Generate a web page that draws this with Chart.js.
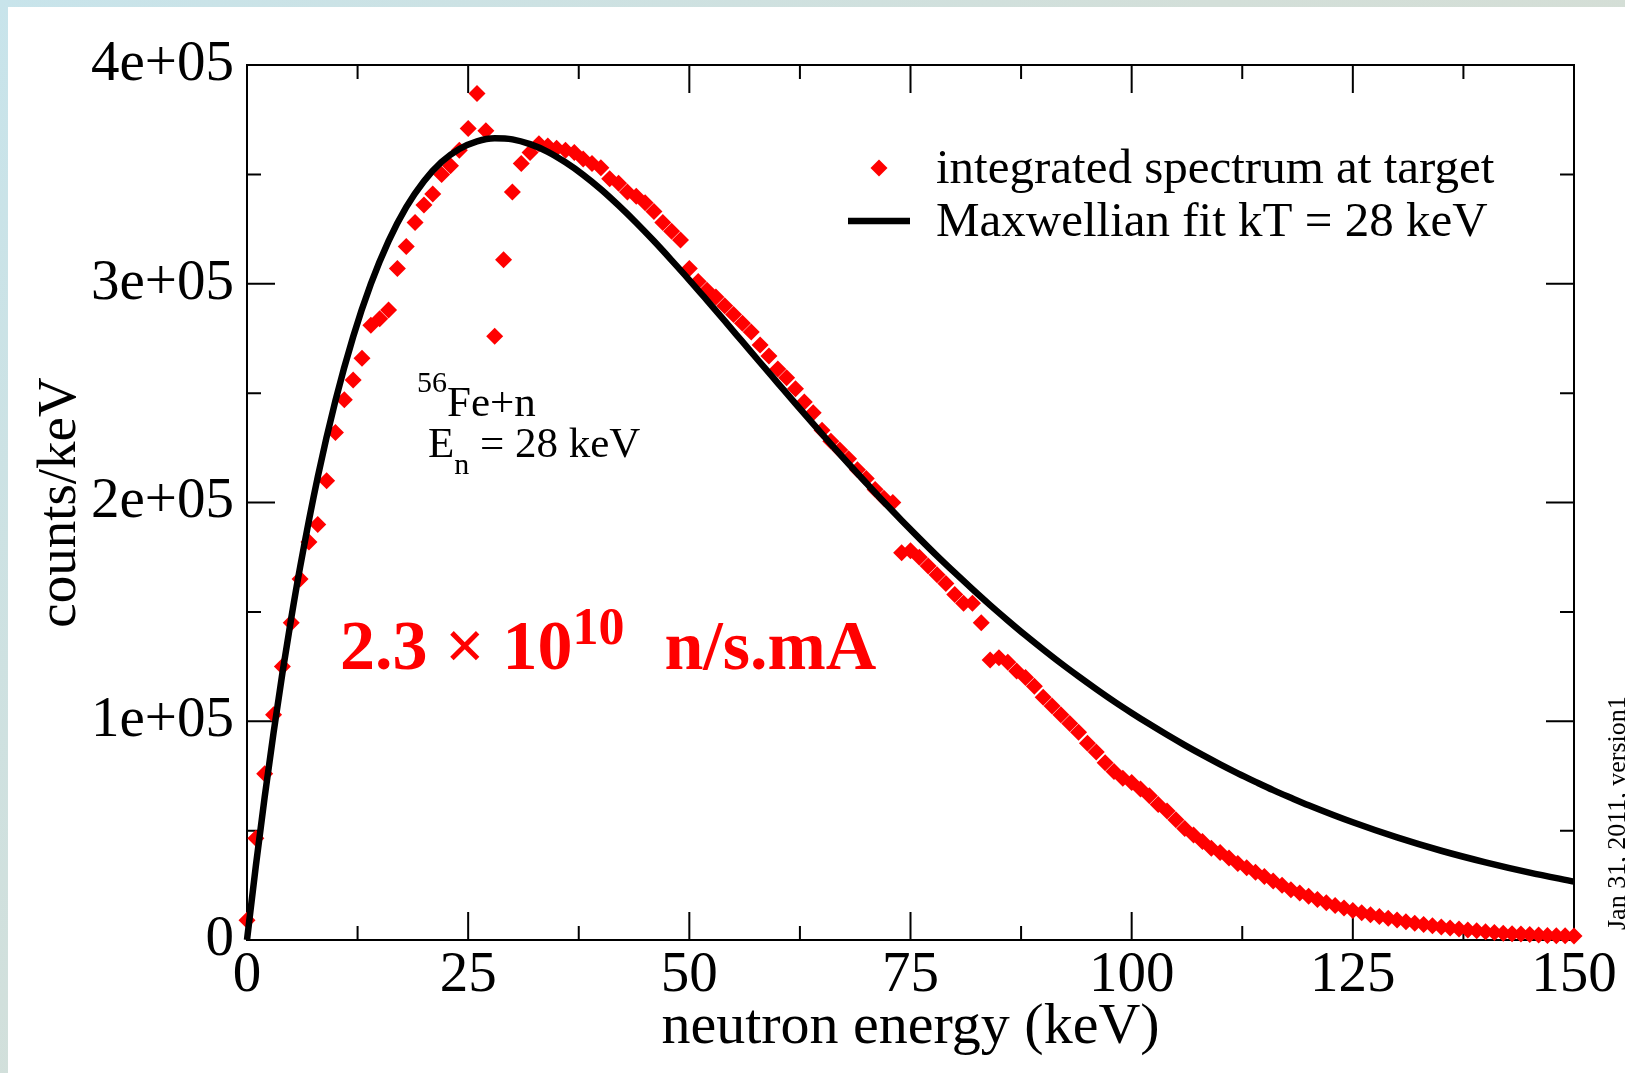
<!DOCTYPE html>
<html>
<head>
<meta charset="utf-8">
<title>Neutron spectrum</title>
<script src="https://cdn.jsdelivr.net/npm/chart.js@4.4.1/dist/chart.umd.min.js"></script>
<style>
  html, body { margin: 0; padding: 0; width: 1625px; height: 1073px; overflow: hidden; }
  body {
    position: relative;
    background: linear-gradient(135deg, #c8e4eb 0%, #d3dfd9 45%, #d7dccf 100%);
    font-family: "Liberation Serif", "Times New Roman", serif;
  }
  #panel { position: absolute; left: 8px; top: 7px; width: 1617px; height: 1066px; background: #fff; }
  #panel canvas { display: block; }
  .note { position: absolute; white-space: nowrap; line-height: 1; color: #000; }
  .sup { position: relative; font-size: 30px; top: -24px; }
  .sub { position: relative; font-size: 30px; top: 17px; }
  .rate { font-weight: bold; color: #ff0000; }
  .rate .sup { font-size: 52px; top: -25px; }
</style>
</head>
<body>
<div id="panel"><canvas id="chart"></canvas></div>

<div class="note" style="left:417px; top:380px; font-size:43px;"><span class="sup">56</span>Fe+n</div>
<div class="note" style="left:428px; top:421px; font-size:43px;">E<span class="sub">n</span> = 28 keV</div>
<div class="note rate" style="left:340px; top:611px; font-size:70px;">2.3 × 10<span class="sup">10</span>&nbsp; <span style="margin-left:5px">n/s.mA</span></div>
<div class="note" style="left:1604px; top:930px; font-size:26px; transform-origin:0 0; transform:rotate(-90deg);">Jan 31, 2011, version1</div>

<script>
// measured spectrum, one point per keV
const spectrumEnergy = [
  0, 1, 2, 3, 4, 5, 6, 7, 8, 9,
  10, 11, 12, 13, 14, 15, 16, 17, 18, 19,
  20, 21, 22, 23, 24, 25, 26, 27, 28, 29,
  30, 31, 32, 33, 34, 35, 36, 37, 38, 39,
  40, 41, 42, 43, 44, 45, 46, 47, 48, 49,
  50, 51, 52, 53, 54, 55, 56, 57, 58, 59,
  60, 61, 62, 63, 64, 65, 66, 67, 68, 69,
  70, 71, 72, 73, 74, 75, 76, 77, 78, 79,
  80, 81, 82, 83, 84, 85, 86, 87, 88, 89,
  90, 91, 92, 93, 94, 95, 96, 97, 98, 99,
  100, 101, 102, 103, 104, 105, 106, 107, 108, 109,
  110, 111, 112, 113, 114, 115, 116, 117, 118, 119,
  120, 121, 122, 123, 124, 125, 126, 127, 128, 129,
  130, 131, 132, 133, 134, 135, 136, 137, 138, 139,
  140, 141, 142, 143, 144, 145, 146, 147, 148, 149,
  150
];
const spectrumCounts = [
  9000, 46500, 76000, 103000, 125000, 145000, 165000, 182000, 190000, 210000,
  232000, 247000, 256000, 266000, 281000, 284000, 288000, 307000, 317000, 328000,
  336000, 341000, 350000, 354000, 361000, 371000, 387000, 370000, 276000, 311000,
  342000, 355000, 360000, 364000, 363000, 362000, 361000, 360000, 357000, 355000,
  353000, 348000, 346000, 342000, 340000, 337000, 333000, 328000, 324000, 320000,
  307000, 301000, 297000, 294000, 290000, 286000, 282000, 278000, 272000, 267000,
  261000, 257000, 252000, 246000, 241000, 233000, 228000, 224000, 220000, 215000,
  211000, 206000, 202000, 200000, 177000, 178000, 175000, 171000, 167000, 163000,
  158000, 154000, 154000, 145000, 128000, 129000, 127000, 123000, 120000, 116000,
  111000, 107000, 103000, 99000, 95000, 90000, 86000, 81000, 77000, 74000,
  72000, 69000, 66000, 62000, 59000, 55000, 51000, 48000, 45000, 42000,
  40000, 37500, 35000, 33000, 31000, 29000, 27000, 25000, 23000, 21500,
  20000, 18500, 17000, 15800, 14600, 13500, 12500, 11500, 10700, 9900,
  9100, 8400, 7700, 7100, 6500, 6000, 5500, 5000, 4600, 4200,
  3800, 3400, 3100, 2900, 2700, 2500, 2300, 2100, 2000, 1900,
  1800
];

// Maxwellian fit curve
const fitEnergy = [
  0, 1, 2, 3, 4, 5, 6, 8, 10, 12, 14, 16, 18, 20, 22, 24, 26, 28, 30, 32,
  34, 36, 38, 40, 42, 44, 46, 48, 50, 52, 54, 56, 58, 60, 62, 64, 66, 68, 70, 72,
  74, 76, 78, 80, 82, 84, 86, 88, 90, 92, 94, 96, 98, 100, 102, 104, 106, 108, 110, 112,
  114, 116, 118, 120, 125, 130, 135, 140, 145, 150
];
const fitCounts = [
  0, 33900, 65400, 94700, 121900, 147100, 170400, 211700, 246600, 275800,
  299900, 319500, 335000, 346900, 355700, 361600, 365100, 366500, 366000, 363800,
  360300, 355500, 349800, 343200, 335800, 327900, 319500, 310700, 301700, 292400,
  283000, 273500, 264000, 254600, 245200, 235900, 226700, 217700, 208900, 200200,
  191800, 183600, 175600, 167900, 160400, 153100, 146100, 139300, 132800, 126500,
  120500, 114700, 109100, 103800, 98700, 93800, 89100, 84600, 80300, 76200,
  72300, 68500, 65000, 61600, 53800, 46900, 40800, 35500, 30800, 26700
];

const xTicks = { min: 0, max: 150, step: 25 };
const yTicks = { min: 0, max: 400000, step: 100000 };

const seriesLabels = ['integrated spectrum at target', 'Maxwellian fit kT = 28 keV'];
const xTitle = 'neutron energy (keV)';
const yTitle = 'counts/keV';

const SERIF = '"Liberation Serif", "Times New Roman", serif';
Chart.defaults.font.family = SERIF;
Chart.defaults.color = '#000';

const toXY = (xs, ys) => xs.map((x, i) => ({ x: x, y: ys[i] }));

// frame with inward major/minor ticks on all four sides
const axisFrame = {
  id: 'axisFrame',
  beforeDatasetsDraw(chart, args, opts) {
    const { ctx, chartArea: a, scales: { x, y } } = chart;
    ctx.save();
    ctx.strokeStyle = '#000';
    ctx.lineWidth = 2;
    ctx.strokeRect(a.left, a.top, a.right - a.left, a.bottom - a.top);
    ctx.beginPath();
    const xt = x.ticks.map(t => t.value);
    xt.forEach((v, i) => {
      const px = x.getPixelForValue(v);
      ctx.moveTo(px, a.bottom); ctx.lineTo(px, a.bottom - opts.major);
      ctx.moveTo(px, a.top); ctx.lineTo(px, a.top + opts.major);
      if (i < xt.length - 1) {
        const mx = x.getPixelForValue((v + xt[i + 1]) / 2);
        ctx.moveTo(mx, a.bottom); ctx.lineTo(mx, a.bottom - opts.minor);
        ctx.moveTo(mx, a.top); ctx.lineTo(mx, a.top + opts.minor);
      }
    });
    const yt = y.ticks.map(t => t.value);
    yt.forEach((v, i) => {
      const py = y.getPixelForValue(v);
      ctx.moveTo(a.left, py); ctx.lineTo(a.left + opts.major, py);
      ctx.moveTo(a.right, py); ctx.lineTo(a.right - opts.major, py);
      if (i < yt.length - 1) {
        const my = y.getPixelForValue((v + yt[i + 1]) / 2);
        ctx.moveTo(a.left, my); ctx.lineTo(a.left + opts.minor, my);
        ctx.moveTo(a.right, my); ctx.lineTo(a.right - opts.minor, my);
      }
    });
    ctx.stroke();
    ctx.restore();
  },
  afterDraw(chart, args, opts) {
    // legend inside the plot, top right
    const { ctx } = chart;
    const lg = opts.legend;
    ctx.save();
    ctx.font = lg.fontSize + 'px ' + SERIF;
    ctx.textBaseline = 'alphabetic';
    ctx.textAlign = 'left';
    chart.data.datasets.forEach((ds, i) => {
      const base = lg.top + i * lg.rowGap;
      const my = base - lg.markOffset;
      const cx = lg.markLeft + lg.markWidth / 2;
      if (ds.showLine) {
        ctx.strokeStyle = ds.borderColor;
        ctx.lineWidth = ds.borderWidth;
        ctx.beginPath();
        ctx.moveTo(lg.markLeft, my);
        ctx.lineTo(lg.markLeft + lg.markWidth, my);
        ctx.stroke();
      } else {
        const r = ds.pointRadius;
        ctx.fillStyle = ds.backgroundColor;
        ctx.beginPath();
        ctx.moveTo(cx - r, my); ctx.lineTo(cx, my - r);
        ctx.lineTo(cx + r, my); ctx.lineTo(cx, my + r);
        ctx.closePath();
        ctx.fill();
      }
      ctx.fillStyle = '#000';
      ctx.fillText(ds.label, lg.textLeft, base);
    });
    ctx.restore();
  }
};

new Chart(document.getElementById('chart').getContext('2d'), {
  type: 'scatter',
  data: {
    datasets: [
      {
        label: seriesLabels[0],
        data: toXY(spectrumEnergy, spectrumCounts),
        pointStyle: 'rectRot',
        pointRadius: 8.5,
        backgroundColor: '#ff0000',
        borderColor: '#ff0000',
        borderWidth: 0,
        showLine: false,
        clip: false,
        order: 1
      },
      {
        label: seriesLabels[1],
        data: toXY(fitEnergy, fitCounts),
        showLine: true,
        borderColor: '#000000',
        borderWidth: 6.5,
        pointRadius: 0,
        cubicInterpolationMode: 'monotone',
        fill: false,
        clip: false,
        order: 0
      }
    ]
  },
  plugins: [axisFrame],
  options: {
    responsive: true,
    maintainAspectRatio: false,
    animation: false,
    events: [],
    layout: { padding: { top: 58, right: 51, left: 0, bottom: 0 } },
    plugins: {
      legend: { display: false },
      tooltip: { enabled: false },
      axisFrame: {
        major: 28,
        minor: 14,
        legend: { fontSize: 49, top: 176, rowGap: 53, markOffset: 15, markLeft: 840, markWidth: 62, textLeft: 928 }
      }
    },
    scales: {
      x: {
        type: 'linear',
        min: xTicks.min,
        max: xTicks.max,
        ticks: { stepSize: xTicks.step, autoSkip: false, maxRotation: 0, padding: 2, font: { size: 57 } },
        grid: { display: false, drawTicks: false },
        border: { display: false },
        title: { display: true, text: xTitle, font: { size: 58 }, padding: { top: 0, bottom: 10 } },
        afterFit(scale) { scale.height = 133; }
      },
      y: {
        type: 'linear',
        min: yTicks.min,
        max: yTicks.max,
        ticks: {
          stepSize: yTicks.step,
          autoSkip: false,
          padding: 13,
          font: { size: 57 },
          callback: v => v === 0 ? '0' : v.toExponential(0).replace(/e\+(\d)$/, 'e+0$1')
        },
        grid: { display: false, drawTicks: false },
        border: { display: false },
        title: { display: true, text: yTitle, font: { size: 55 }, padding: { top: 20, bottom: 0 } },
        afterFit(scale) { scale.width = 239; }
      }
    }
  }
});
</script>
</body>
</html>
